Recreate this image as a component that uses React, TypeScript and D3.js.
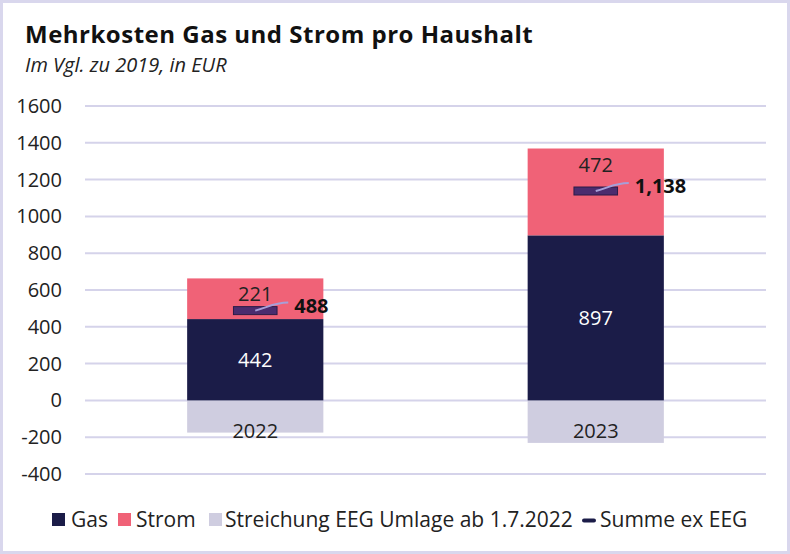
import React from "react";
import * as d3 from "d3";

const categories = ["2022", "2023"];
const gas = [442, 897];
const strom = [221, 472];
const eeg = [-175, -231];
const summeExEeg = [488, 1138];
const yTicks = [-400, -200, 0, 200, 400, 600, 800, 1000, 1200, 1400, 1600];

const W = 790;
const H = 554;
const C_GAS = "#1b1c48";
const C_STROM = "#f06277";
const C_EEG = "#cfcde0";
const C_MARK = "#4b2c6e";
const C_GRID = "#d5d3ea";
const FONT = "'Open Sans', 'Noto Sans', sans-serif";

export default function App() {
  const x = d3.scaleBand<string>().domain(categories).range([85, 766]).paddingInner(0.6).paddingOuter(0.3);
  const y = d3.scaleLinear().domain([-400, 1600]).range([474, 106]);
  const bw = x.bandwidth();
  const fmt = d3.format(",");

  return (
    <svg width={W} height={H} style={{ position: "absolute", left: 0, top: 0, background: "#fff" }} fontFamily={FONT}>
      <rect x={1.5} y={1.5} width={W - 3} height={H - 3} fill="#fff" stroke="#d9d7ed" strokeWidth={3} />
      <text x={25} y={43} fontSize={24} fontWeight={700} letterSpacing={0.5} fill="#111">Mehrkosten Gas und Strom pro Haushalt</text>
      <text x={25} y={72} fontSize={20} fontStyle="italic" fill="#222">Im Vgl. zu 2019, in EUR</text>

      {yTicks.map((t) => (
        <g key={t}>
          <line x1={85} x2={766} y1={y(t)} y2={y(t)} stroke={C_GRID} strokeWidth={2} />
          <text x={62} y={y(t)} dy="0.35em" textAnchor="end" fontSize={20} fill="#222">{t}</text>
        </g>
      ))}

      {categories.map((c, i) => {
        const x0 = x(c)!;
        const cx = x0 + bw / 2;
        const yGasTop = y(gas[i]);
        const yStromTop = y(gas[i] + strom[i]);
        const ySum = y(summeExEeg[i]);
        const mw = bw * 0.32;
        const lx0 = cx;
        const ly0 = ySum;
        const lx1 = cx + 33;
        const ly1 = ySum - 8;
        return (
          <g key={c}>
            <rect x={x0} y={y(0)} width={bw} height={y(eeg[i]) - y(0)} fill={C_EEG} />
            <rect x={x0} y={yGasTop} width={bw} height={y(0) - yGasTop} fill={C_GAS} />
            <rect x={x0} y={yStromTop} width={bw} height={yGasTop - yStromTop} fill={C_STROM} />
            <text x={cx} y={(yGasTop + y(0)) / 2} dy="0.35em" textAnchor="middle" fontSize={20} fill="#fff">{gas[i]}</text>
            <text x={cx} y={yStromTop + 16} dy="0.35em" textAnchor="middle" fontSize={20} fill="#222">{strom[i]}</text>
            <rect x={cx - mw / 2} y={ySum - 4} width={mw} height={8} fill={C_MARK} stroke="#2c1c48" strokeWidth={1} />
            <path
              d={`M${lx0},${ly0} C${lx0 + 12},${ly0 - 3} ${lx1 - 14},${ly1} ${lx1},${ly1}`}
              fill="none"
              stroke="#a79fd8"
              strokeWidth={2}
            />
            <text x={lx1 + 6} y={ySum - 5} dy="0.35em" fontSize={20} fontWeight={700} fill="#111">{fmt(summeExEeg[i])}</text>
            <text x={cx} y={y(0) + 31} dy="0.35em" textAnchor="middle" fontSize={20} fill="#222">{c}</text>
          </g>
        );
      })}

      <g fontSize={21} fill="#222">
        <rect x={52} y={513} width={13} height={13} fill={C_GAS} />
        <text x={71} y={520} dy="0.35em">Gas</text>
        <rect x={118} y={513} width={13} height={13} fill={C_STROM} />
        <text x={136} y={520} dy="0.35em">Strom</text>
        <rect x={209} y={513} width={13} height={13} fill={C_EEG} />
        <text x={225} y={520} dy="0.35em">Streichung EEG Umlage ab 1.7.2022</text>
        <rect x={582} y={518.5} width={14} height={4} rx={2} fill={C_GAS} />
        <text x={600} y={520} dy="0.35em">Summe ex EEG</text>
      </g>
    </svg>
  );
}
